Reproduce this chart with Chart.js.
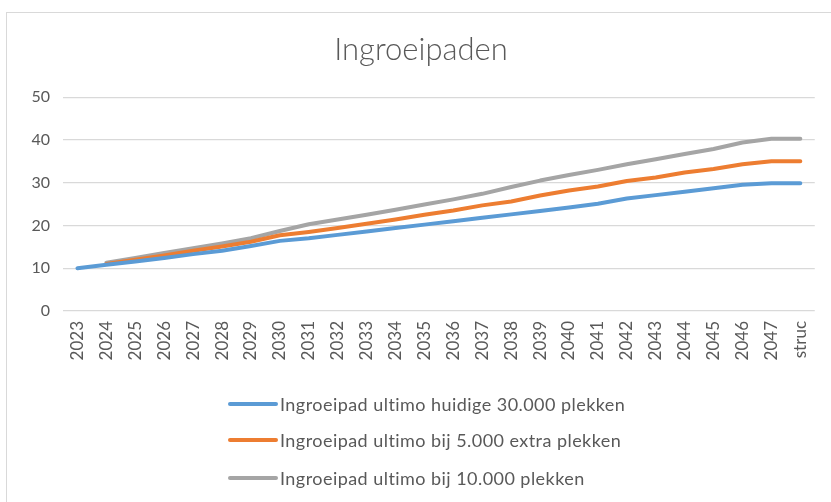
<!DOCTYPE html>
<html>
<head>
<meta charset="utf-8">
<script src="https://cdn.jsdelivr.net/npm/chart.js@4/dist/chart.umd.min.js"></script>
<style>
  html, body { margin: 0; padding: 0; background: #ffffff; }
  #wrap { position: relative; width: 831px; height: 502px; overflow: hidden; background: #fff; }
  #frame { position: absolute; left: 6px; top: 12px; width: 900px; height: 600px; border-left: 1px solid #d9d9d9; border-top: 1px solid #d9d9d9; }
  #c { position: absolute; left: 0; top: 0; }
  .leg { position: absolute; left: 228px; height: 22px; display: flex; align-items: center; font-family: Lato, "Open Sans", sans-serif; font-size: 18px; letter-spacing: 0.45px; color: #595959; white-space: nowrap; }
  .leg .ln { display: inline-block; width: 50px; height: 4px; border-radius: 2px; margin-right: 2px; }
</style>
</head>
<body>
<div id="wrap">
  <div id="frame"></div>
  <canvas id="c" width="831" height="502"></canvas>
  <div id="legend"></div>
</div>
<script>
const categories = ["2023","2024","2025","2026","2027","2028","2029","2030","2031","2032","2033","2034","2035","2036","2037","2038","2039","2040","2041","2042","2043","2044","2045","2046","2047","struc"];
const huidige30000 = [10.0, 10.8, 11.6, 12.4, 13.3, 14.1, 15.2, 16.4, 17.0, 17.8, 18.6, 19.4, 20.2, 21.0, 21.8, 22.6, 23.4, 24.2, 25.1, 26.3, 27.1, 27.9, 28.7, 29.5, 29.9, 29.9];
const extra5000 = [null, 11.0, 12.0, 13.0, 14.1, 15.1, 16.2, 17.7, 18.5, 19.4, 20.4, 21.4, 22.5, 23.5, 24.7, 25.6, 27.0, 28.2, 29.1, 30.4, 31.2, 32.4, 33.2, 34.3, 35.0, 35.0];
const extra10000 = [null, 11.3, 12.4, 13.6, 14.7, 15.8, 17.0, 18.7, 20.3, 21.4, 22.5, 23.7, 24.9, 26.1, 27.4, 29.0, 30.5, 31.8, 33.0, 34.3, 35.5, 36.7, 37.9, 39.4, 40.3, 40.3];
const seriesLabels = ["Ingroeipad ultimo huidige 30.000 plekken", "Ingroeipad ultimo bij 5.000 extra plekken", "Ingroeipad ultimo bij 10.000 plekken"];
const seriesColors = ["#5b9bd5", "#ed7d31", "#a5a5a5"];
const yTicks = [0, 10, 20, 30, 40, 50];
const chartTitle = "Ingroeipaden";

const seriesData = [huidige30000, extra5000, extra10000];
const FONT = "Lato, 'Open Sans', sans-serif";
const TXT = "#595959";

new Chart(document.getElementById('c'), {
  type: 'line',
  data: {
    labels: categories,
    datasets: seriesData.map((d, i) => ({
      label: seriesLabels[i],
      data: d,
      borderColor: seriesColors[i],
      backgroundColor: seriesColors[i],
      borderWidth: 4,
      pointRadius: 0,
      tension: 0,
      spanGaps: false,
      borderCapStyle: 'round',
      borderJoinStyle: 'round'
    }))
  },
  options: {
    responsive: false,
    animation: false,
    devicePixelRatio: 1,
    layout: { padding: { left: 26, right: 15, top: 31, bottom: 130 } },
    plugins: {
      legend: { display: false },
      tooltip: { enabled: false },
      title: {
        display: true,
        text: chartTitle,
        color: TXT,
        font: { family: FONT, size: 31, weight: '300' },
        padding: { top: 0, bottom: 29 }
      }
    },
    scales: {
      x: {
        offset: true,
        grid: { display: false, drawTicks: false },
        border: { display: false },
        ticks: { color: TXT, font: { family: FONT, size: 17 }, minRotation: 90, maxRotation: 90, autoSkip: false, padding: 10 },
        afterFit: (s) => { s.height = 61; }
      },
      y: {
        min: 0, max: 50,
        afterBuildTicks: (s) => { s.ticks = yTicks.map(v => ({ value: v })); },
        grid: { color: '#d9d9d9', lineWidth: 1.2, drawTicks: false },
        border: { display: false },
        ticks: { color: TXT, font: { family: FONT, size: 16 }, padding: 13 },
        afterFit: (s) => { s.width = 37; }
      }
    }
  }
});

const legendTops = [393, 429, 467];
const legEl = document.getElementById('legend');
seriesLabels.forEach((lab, i) => {
  const row = document.createElement('div');
  row.className = 'leg';
  row.style.top = legendTops[i] + 'px';
  const ln = document.createElement('span');
  ln.className = 'ln';
  ln.style.background = seriesColors[i];
  const tx = document.createElement('span');
  tx.textContent = lab;
  row.appendChild(ln);
  row.appendChild(tx);
  legEl.appendChild(row);
});
</script>
</body>
</html>
